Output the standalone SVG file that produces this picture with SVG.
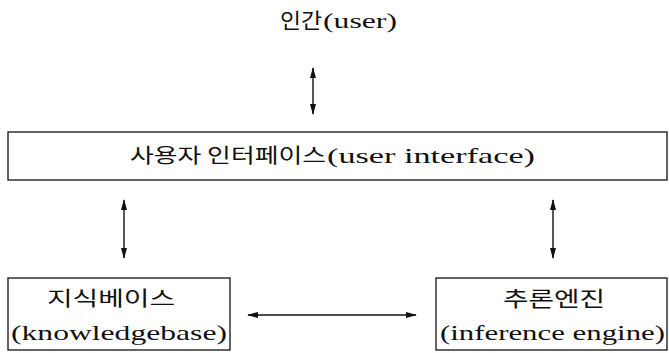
<svg xmlns="http://www.w3.org/2000/svg" width="669" height="353" viewBox="0 0 669 353">
<style>
.box{fill:#fff;stroke:#111;stroke-width:1.3}
.t{font-family:"Liberation Serif","Noto Sans CJK KR",serif;fill:#111}
.k{font-family:"Noto Sans CJK KR","Liberation Serif",sans-serif;fill:#111}
.c{stroke:#111;stroke-width:1.4;fill:none;marker-start:url(#ah);marker-end:url(#ah)}
</style>
<defs>
<marker id="ah" viewBox="0 0 11 7" refX="10" refY="3.5" markerWidth="11" markerHeight="7" markerUnits="userSpaceOnUse" orient="auto-start-reverse">
<path d="M0,0.5 L11,3.5 L0,6.5 z" fill="#111"/>
</marker>
</defs>
<rect width="669" height="353" fill="#fff"/>
<g id="user">
<text class="k" x="280" y="28" font-size="21" textLength="42" lengthAdjust="spacingAndGlyphs">인간</text>
<text class="t" x="323" y="28" font-size="22" textLength="74" lengthAdjust="spacingAndGlyphs">(user)</text>
</g>
<g id="ui">
<rect class="box" x="8" y="132" width="659" height="48"/>
<text class="k" x="130" y="163" font-size="20" textLength="196" lengthAdjust="spacingAndGlyphs">사용자 인터페이스</text>
<text class="t" x="327" y="163" font-size="21" textLength="208" lengthAdjust="spacingAndGlyphs">(user interface)</text>
</g>
<g id="kb">
<rect class="box" x="8" y="278" width="222" height="72"/>
<text class="k" x="47" y="306" font-size="20" textLength="128" lengthAdjust="spacingAndGlyphs">지식베이스</text>
<text class="t" x="11" y="340" font-size="22" textLength="216" lengthAdjust="spacingAndGlyphs">(knowledgebase)</text>
</g>
<g id="ie">
<rect class="box" x="436" y="278" width="231" height="72"/>
<text class="k" x="503" y="306" font-size="21" textLength="102" lengthAdjust="spacingAndGlyphs">추론엔진</text>
<text class="t" x="440" y="340" font-size="22" textLength="225" lengthAdjust="spacingAndGlyphs">(inference engine)</text>
</g>
<g id="connectors">
<line class="c" x1="313" y1="68" x2="313" y2="114"/>
<line class="c" x1="124" y1="200" x2="124" y2="258"/>
<line class="c" x1="553" y1="200" x2="553" y2="258"/>
<line class="c" x1="248" y1="315" x2="416" y2="315"/>
</g>
</svg>
